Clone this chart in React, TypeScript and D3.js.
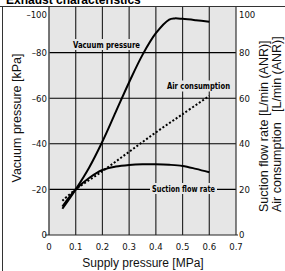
import React from "react";
import * as d3 from "d3";

const xTicks = [0, 0.1, 0.2, 0.3, 0.4, 0.5, 0.6, 0.7];
const xTickLabels = ["0", "0.1", "0.2", "0.3", "0.4", "0.5", "0.6", "0.7"];
const yTicks = [0, 20, 40, 60, 80, 100];
const yLeftLabels = ["0", "–20", "–40", "–60", "–80", "–100"];
const yRightLabels = ["0", "20", "40", "60", "80", "100"];

const vacuumX = [0.05, 0.1, 0.15, 0.2, 0.25, 0.3, 0.35, 0.4, 0.45, 0.47, 0.5, 0.55, 0.6];
const vacuumY = [11.5, 20, 29.5, 41, 54, 67, 79, 88.5, 94.5, 95, 94.8, 94.2, 93.5];

const suctionX = [0.05, 0.1, 0.15, 0.2, 0.25, 0.3, 0.35, 0.4, 0.45, 0.5, 0.55, 0.6];
const suctionY = [12.5, 20, 25, 28.5, 30, 30.7, 31, 31, 30.8, 30.3, 29, 27.5];

const airX = [0.05, 0.1, 0.2, 0.3, 0.4, 0.5, 0.6];
const airY = [15, 20, 28, 36.5, 45, 53, 61];

const W = 285;
const H = 271;
const L = 49, R = 236, T = 7, B = 235;
const BG = "#e6e6e6";
const NARROW = "'Liberation Sans Narrow', 'Arial Narrow', 'DejaVu Sans Condensed', sans-serif";
const SANS = "'Liberation Sans', Arial, sans-serif";

export default function App() {
  const x = d3.scaleLinear().domain([0, 0.7]).range([L, R]);
  const y = d3.scaleLinear().domain([0, 100]).range([B, T]);
  const line = d3
    .line<[number, number]>()
    .x((d) => x(d[0]))
    .y((d) => y(d[1]))
    .curve(d3.curveCatmullRom.alpha(0.5));
  const pts = (xs: number[], ys: number[]) => xs.map((v, i) => [v, ys[i]] as [number, number]);
  const labY = (v: number) => Math.max(y(v), T + 8);

  const annotations = [
    { text: "Vacuum pressure", cx: 106.5, cy: 44.5, w: 67 },
    { text: "Air consumption", cx: 198.5, cy: 86, w: 63 },
    { text: "Suction flow rate", cx: 183.5, cy: 188.5, w: 63 },
  ];

  return (
    <svg width={W} height={H} style={{ position: "absolute", left: 0, top: 0, background: "#fff" }}>
      <text x={6} y={4} fontFamily={SANS} fontWeight="bold" fontSize={12} fill="#000">
        Exhaust characteristics
      </text>
      <line x1={0} x2={W} y1={6.5} y2={6.5} stroke="#333" strokeWidth={1} />
      <line x1={2.5} x2={2.5} y1={6} y2={H} stroke="#333" strokeWidth={1} />

      <rect x={L} y={T} width={R - L} height={B - T} fill={BG} />
      {xTicks.slice(1, -1).map((t) => (
        <line key={"vx" + t} x1={x(t)} x2={x(t)} y1={T} y2={B} stroke="#2a2a2a" strokeWidth={1.2} />
      ))}
      {yTicks.slice(1, -1).map((t) => (
        <line key={"hy" + t} x1={L} x2={R} y1={y(t)} y2={y(t)} stroke="#000" strokeWidth={1.1} />
      ))}
      <line x1={L} x2={L} y1={T} y2={B} stroke="#555" strokeWidth={1.6} />
      <line x1={R} x2={R} y1={T} y2={B} stroke="#333" strokeWidth={1.2} />
      <line x1={L - 4} x2={R + 2} y1={B} y2={B} stroke="#222" strokeWidth={1.2} />

      {yTicks.map((t, i) => (
        <text key={"yl" + t} x={L - 2} y={labY(t)} dy="0.35em" textAnchor="end" fontFamily={NARROW} fontSize={9.5} fill="#111">
          {yLeftLabels[i]}
        </text>
      ))}
      {yTicks.map((t, i) => (
        <text key={"yr" + t} x={R + 3} y={labY(t)} dy="0.35em" textAnchor="start" fontFamily={NARROW} fontSize={9.5} fill="#111">
          {yRightLabels[i]}
        </text>
      ))}
      {xTicks.map((t, i) => (
        <text key={"xl" + t} x={x(t)} y={247} dy="0.35em" textAnchor="middle" fontFamily={NARROW} fontSize={9.5} fill="#111">
          {xTickLabels[i]}
        </text>
      ))}

      {annotations.map((a) => (
        <g key={a.text}>
          <rect x={a.cx - a.w / 2 - 2} y={a.cy - 5.5} width={a.w + 4} height={11} fill={BG} />
          <text
            x={a.cx - a.w / 2}
            y={a.cy}
            dy="0.35em"
            textLength={a.w}
            lengthAdjust="spacingAndGlyphs"
            fontFamily={NARROW}
            fontWeight="bold"
            fontSize={9.5}
            fill="#000"
          >
            {a.text}
          </text>
        </g>
      ))}

      <path d={line(pts(airX, airY)) || ""} fill="none" stroke="#000" strokeWidth={2} strokeDasharray="2,2" />
      <path d={line(pts(suctionX, suctionY)) || ""} fill="none" stroke="#000" strokeWidth={2} />
      <path d={line(pts(vacuumX, vacuumY)) || ""} fill="none" stroke="#000" strokeWidth={2} />

      <text x={143} y={263} dy="0.35em" textAnchor="middle" fontFamily={SANS} fontSize={12} fill="#111">
        Supply pressure [MPa]
      </text>
      <text
        transform={`translate(21,118) rotate(-90)`}
        textAnchor="middle"
        fontFamily={SANS}
        fontSize={12.5}
        fill="#111"
      >
        Vacuum pressure [kPa]
      </text>
      <text transform={`translate(268,212) rotate(-90)`} textAnchor="start" fontFamily={SANS} fontSize={12.5} fill="#111">
        Suction flow rate [L/min (ANR)]
      </text>
      <text
        transform={`translate(281,212) rotate(-90)`}
        textAnchor="start"
        fontFamily={SANS}
        fontSize={12.5}
        fill="#111"
        style={{ whiteSpace: "pre" }}
      >
        {"Air consumption   [L/min (ANR)]"}
      </text>
    </svg>
  );
}
